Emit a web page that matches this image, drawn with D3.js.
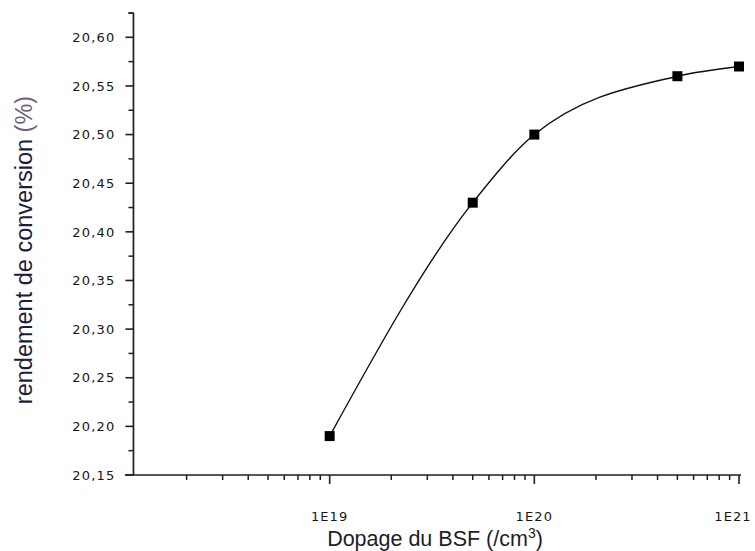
<!DOCTYPE html>
<html>
<head>
<meta charset="utf-8">
<script src="https://cdn.jsdelivr.net/npm/d3@7"></script>
<style>
  html, body { margin: 0; padding: 0; background: #fff; }
  svg { display: block; }
</style>
</head>
<body>
<svg id="chart" width="755" height="551"></svg>
<script>
// Doping of the back-surface field (cm^-3) and the resulting conversion efficiency (%)
const dopage = [1e19, 5e19, 1e20, 5e20, 1e21];
const rendement = [20.19, 20.43, 20.50, 20.56, 20.57];

const yTickValues = [20.15, 20.20, 20.25, 20.30, 20.35, 20.40, 20.45, 20.50, 20.55, 20.60];
const xTickValues = [1e19, 1e20, 1e21];
const xTickLabels = ["1E19", "1E20", "1E21"];

const xTitle = "Dopage du BSF (/cm";
const xTitleSup = "3";
const yTitle = "rendement de conversion ";
const yTitleUnit = "(%)";

const svg = d3.select("#chart");
const axisColor = "#1e1e1e";
const labelFont = "'DejaVu Sans', Verdana, sans-serif";
const titleFont = "'Liberation Sans', Arial, sans-serif";

const x = d3.scaleLog().domain([1e18, 1e21]).range([125, 739]);
const y = d3.scaleLinear().domain([20.15, 20.625]).range([475, 13]);
const yAxisX = x(1.1e18);

// minor ticks
const xMinor = [];
for (let e = 18; e < 21; e++) for (let m = 2; m <= 9; m++) xMinor.push(m * Math.pow(10, e));
const yMinor = d3.range(0, 10).map(i => 20.175 + i * 0.05);

// x axis
const xg = svg.append("g").attr("transform", `translate(0,${y(20.15)})`);
xg.append("line").attr("x1", x(1e18)).attr("x2", x(1e21) + 2).attr("y1", 0).attr("y2", 0)
  .attr("stroke", axisColor).attr("stroke-width", 1.7);
xg.selectAll("line.minor").data(xMinor).join("line").attr("class", "minor")
  .attr("x1", d => x(d)).attr("x2", d => x(d)).attr("y1", 0).attr("y2", 5)
  .attr("stroke", axisColor).attr("stroke-width", 1.5);
xg.selectAll("line.major").data(xTickValues).join("line").attr("class", "major")
  .attr("x1", d => x(d)).attr("x2", d => x(d)).attr("y1", 0).attr("y2", 9)
  .attr("stroke", axisColor).attr("stroke-width", 1.6);
xg.selectAll("text").data(xTickValues).join("text")
  .attr("x", d => Math.min(x(d), 733)).attr("y", 46)
  .attr("text-anchor", "middle")
  .attr("font-family", labelFont).attr("font-size", 13)
  .attr("letter-spacing", 1.1)
  .attr("fill", "#161616")
  .text((d, i) => xTickLabels[i]);

// y axis
const yg = svg.append("g").attr("transform", `translate(${yAxisX},0)`);
yg.append("line").attr("x1", 0).attr("x2", 0).attr("y1", y(20.625)).attr("y2", y(20.15))
  .attr("stroke", axisColor).attr("stroke-width", 1.7);
yg.selectAll("line.minor").data(yMinor.concat([20.625])).join("line").attr("class", "minor")
  .attr("x1", 0).attr("x2", -5).attr("y1", d => y(d)).attr("y2", d => y(d))
  .attr("stroke", axisColor).attr("stroke-width", 1.5);
yg.selectAll("line.major").data(yTickValues).join("line").attr("class", "major")
  .attr("x1", 0).attr("x2", -8).attr("y1", d => y(d)).attr("y2", d => y(d))
  .attr("stroke", axisColor).attr("stroke-width", 1.6);
yg.selectAll("text").data(yTickValues).join("text")
  .attr("x", -18).attr("y", d => y(d)).attr("dy", "0.36em")
  .attr("text-anchor", "end")
  .attr("font-family", labelFont).attr("font-size", 13)
  .attr("letter-spacing", 1.2)
  .attr("fill", "#161616")
  .text(d => d.toFixed(2).replace(".", ","));

// axis titles
const xt = svg.append("text")
  .attr("x", (x(1e18) + x(1e21)) / 2 + 3).attr("y", 546)
  .attr("text-anchor", "middle")
  .attr("font-family", titleFont).attr("font-size", 21.5)
  .attr("fill", "#1c1c2c");
xt.append("tspan").text(xTitle);
xt.append("tspan").attr("dy", -8).attr("font-size", 14).text(xTitleSup);
xt.append("tspan").attr("dy", 8).text(")");

const yt = svg.append("text")
  .attr("transform", `translate(32,${(y(20.15) + y(20.625)) / 2 + 6}) rotate(-90)`)
  .attr("text-anchor", "middle")
  .attr("font-family", titleFont).attr("font-size", 23.5)
  .attr("fill", "#1c1c3c");
yt.append("tspan").text(yTitle);
yt.append("tspan").attr("fill", "#6e5f7c").text(yTitleUnit);

// data curve
const pts = dopage.map((d, i) => [d, rendement[i]]);
const line = d3.line()
  .x(d => x(d[0])).y(d => y(d[1]))
  .curve(d3.curveMonotoneX);
svg.append("path").datum(pts)
  .attr("d", line)
  .attr("fill", "none")
  .attr("stroke", "#111")
  .attr("stroke-width", 1.4);

// square markers
const s = 10;
svg.selectAll("rect.pt").data(pts).join("rect").attr("class", "pt")
  .attr("x", d => x(d[0]) - s / 2).attr("y", d => y(d[1]) - s / 2)
  .attr("width", s).attr("height", s)
  .attr("fill", "#000");
</script>
</body>
</html>
